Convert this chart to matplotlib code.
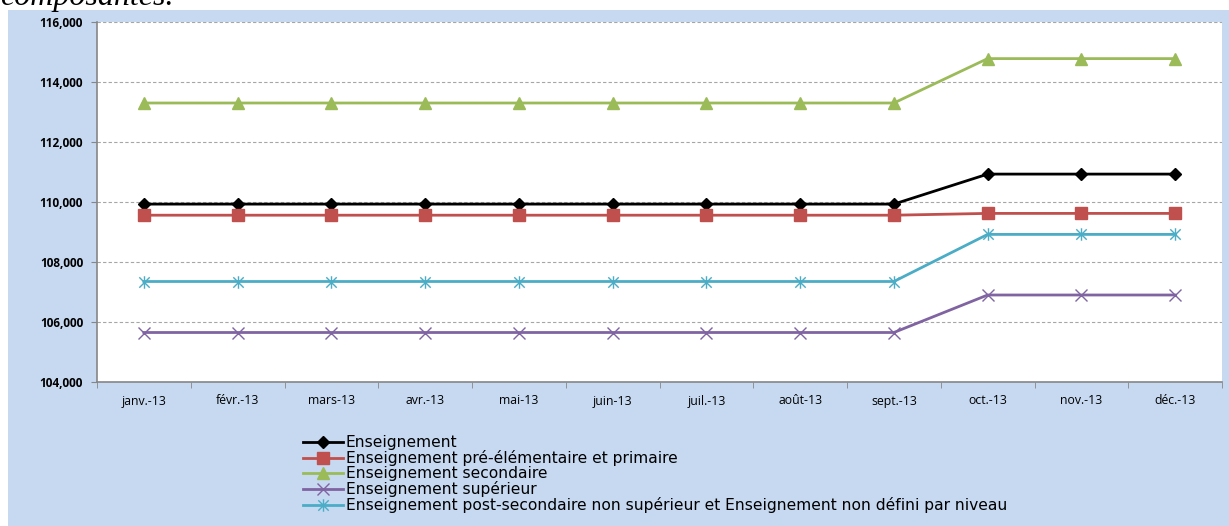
import matplotlib
matplotlib.use("Agg")
import matplotlib.pyplot as plt
from matplotlib.path import Path
from matplotlib.patches import Rectangle
import numpy as np

months = ["janv.-13", "févr.-13", "mars-13", "avr.-13", "mai-13", "juin-13",
          "juil.-13", "août-13", "sept.-13", "oct.-13", "nov.-13", "déc.-13"]

enseignement = [109930] * 9 + [110930] * 3
pre_primaire = [109560] * 9 + [109620] * 3
secondaire = [113300] * 9 + [114780] * 3
superieur = [105650] * 9 + [106900] * 3
post_secondaire = [107350] * 9 + [108920] * 3

labels = ["Enseignement",
          "Enseignement pré-élémentaire et primaire",
          "Enseignement secondaire",
          "Enseignement supérieur",
          "Enseignement post-secondaire non supérieur et Enseignement non défini par niveau"]

yticks = [104000, 106000, 108000, 110000, 112000, 114000, 116000]

plt.rcParams['font.family'] = ['Open Sans', 'DejaVu Sans']

fig = plt.figure(figsize=(12.29, 5.26), dpi=100)
fig.patch.set_facecolor('white')
bg = Rectangle((8 / 1229, 0), 1 - 8 / 1229, 1 - 10 / 526, transform=fig.transFigure,
               facecolor='#C6D9F1', edgecolor='none', zorder=-10)
fig.patches.append(bg)

fig.text(0.0, 1 - 5 / 526, "composantes.", fontsize=23, style='italic',
         family=['Liberation Serif', 'DejaVu Serif'], va='baseline', ha='left')

ax = fig.add_axes([97 / 1229, 1 - 382 / 526, 1125 / 1229, 360 / 526])
ax.set_zorder(5)
ax.set_facecolor('white')

# asterisk marker (x with vertical bar)
star = Path([(-1, -1), (1, 1), (-1, 1), (1, -1), (0, -1.2), (0, 1.2)],
            [Path.MOVETO, Path.LINETO, Path.MOVETO, Path.LINETO, Path.MOVETO, Path.LINETO])

x = np.arange(len(months))
series = [
    (enseignement, 'black', 'D', 6, 'black'),
    (pre_primaire, '#C0504D', 's', 8.5, '#C0504D'),
    (secondaire, '#9BBB59', '^', 8, '#9BBB59'),
    (superieur, '#8064A2', 'x', 8, '#8064A2'),
    (post_secondaire, '#4BACC6', star, 9, '#4BACC6'),
]
for (vals, col, mk, ms, mc), lab in zip(series, labels):
    ax.plot(x, vals, color=col, lw=2.0, marker=mk, markersize=ms,
            markerfacecolor=mc, markeredgecolor=mc, markeredgewidth=1.0, label=lab,
            zorder=3)

ax.set_xlim(-0.5, 11.5)
ax.set_ylim(104000, 116000)
ax.set_yticks(yticks)
ax.set_yticklabels([f"{v:,}" for v in yticks], fontsize=8.5, fontweight='bold')
ax.yaxis.grid(True, linestyle=(0, (3, 2)), color='#A6A6A6', lw=0.8)
ax.set_axisbelow(True)

ax.set_xticks(x)
ax.set_xticklabels(months, fontsize=8.8)
ax.set_xticks(np.arange(-0.5, 12, 1), minor=True)
ax.tick_params(axis='x', which='major', length=0, pad=9)
ax.tick_params(axis='x', which='minor', length=4, color='#868686')
ax.tick_params(axis='y', length=4, color='#868686', pad=6)

for s in ['top', 'right']:
    ax.spines[s].set_visible(False)
for s in ['left', 'bottom']:
    ax.spines[s].set_color('#868686')
    ax.spines[s].set_linewidth(1.2)

leg = fig.legend(loc='upper left', bbox_to_anchor=(303 / 1229, 1 - 435 / 526),
                 frameon=False, prop={'family': ['DejaVu Sans'], 'size': 11.2},
                 handlelength=2.6, handletextpad=0.15,
                 labelspacing=0.0, borderaxespad=0, borderpad=0)

fig.savefig("out.png", dpi=100)
